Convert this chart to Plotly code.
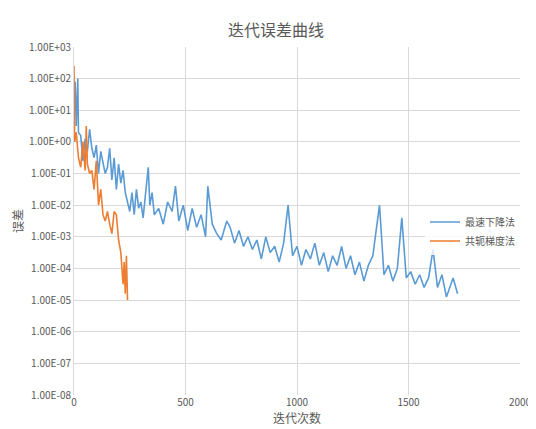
import plotly.graph_objects as go

sd_x = [0,5,10,17,20,30,40,50,60,70,80,90,100,110,120,130,140,150,160,170,180,190,200,210,220,230,240,250,260,270,280,290,300,310,320,333,340,350,360,380,400,420,440,455,470,490,510,530,550,570,590,600,620,640,660,685,700,720,740,760,780,800,820,840,860,880,900,920,940,960,980,1000,1020,1040,1060,1080,1100,1120,1140,1160,1180,1200,1220,1240,1260,1280,1300,1320,1340,1370,1390,1410,1430,1450,1470,1490,1510,1530,1550,1570,1590,1610,1630,1650,1670,1690,1700,1720]
sd_log = [1.0,1.9,0.5,2.0,0.3,0.2,-0.6,0.1,-0.3,0.4,-0.2,-0.5,-0.1,-1.0,-0.3,-0.6,-1.0,-0.8,-0.2,-1.2,-0.5,-1.5,-0.7,-1.3,-0.9,-1.6,-1.9,-2.2,-1.6,-2.3,-1.5,-2.1,-1.9,-2.4,-1.7,-0.8,-2.0,-1.6,-2.3,-2.1,-2.6,-1.9,-2.2,-1.4,-2.5,-2.0,-2.8,-2.1,-2.7,-2.3,-3.0,-1.4,-2.6,-2.9,-3.1,-2.5,-2.7,-3.2,-2.8,-3.3,-3.0,-3.4,-3.1,-3.7,-3.0,-3.5,-3.3,-3.8,-3.2,-2.0,-3.6,-3.3,-3.9,-3.4,-3.7,-3.2,-3.9,-3.5,-4.1,-3.6,-3.9,-3.3,-4.0,-3.6,-4.2,-3.8,-4.4,-3.9,-3.6,-2.0,-4.2,-3.9,-4.4,-4.0,-2.4,-4.3,-4.1,-4.5,-4.2,-4.6,-4.3,-3.4,-4.6,-4.2,-4.9,-4.5,-4.3,-4.8]
cg_x = [0,3,10,20,30,40,50,55,60,70,80,90,100,110,120,130,140,150,160,170,180,190,200,210,220,225,230,235,240]
cg_log = [2.4,0.0,0.3,-0.5,-0.8,0.0,-0.9,0.5,-0.7,-1.0,-0.9,-1.5,-0.6,-2.0,-1.5,-2.3,-2.5,-2.2,-2.6,-2.9,-2.2,-2.3,-3.1,-3.5,-4.5,-3.8,-4.8,-3.6,-5.0]

fig = go.Figure()
fig.add_trace(go.Scatter(x=sd_x, y=[10**v for v in sd_log], mode="lines", name="最速下降法",
                         line=dict(color="#5B9BD5", width=1.6)))
fig.add_trace(go.Scatter(x=cg_x, y=[10**v for v in cg_log], mode="lines", name="共轭梯度法",
                         line=dict(color="#ED7D31", width=1.6)))
tv = [10**k for k in range(-8, 4)]
tt = ["%.2fE%+03d" % (1, k) for k in range(-8, 4)]
fig.update_layout(
    width=536, height=429, paper_bgcolor="white", plot_bgcolor="white",
    font=dict(family="Noto Sans CJK SC", size=10, color="#595959"),
    title=dict(text="迭代误差曲线", x=0.5, y=0.96, font=dict(size=16, color="#595959")),
    margin=dict(l=66, r=24, t=39, b=42),
    legend=dict(x=1.0, y=0.47, xanchor="right", yanchor="middle", font=dict(size=10), bgcolor="rgba(255,255,255,0.8)"),
    xaxis=dict(range=[0, 2000], tickvals=[0,500,1000,1500,2000], showgrid=True, gridcolor="#D9D9D9",
               zeroline=False, title=dict(text="迭代次数", standoff=4)),
    yaxis=dict(type="log", range=[-8, 3], tickvals=tv, ticktext=tt, showgrid=True, gridcolor="#D9D9D9",
               zeroline=False, title=dict(text="误差", standoff=2), showline=True, linecolor="#D9D9D9"),
)
fig.write_html("out.html")
